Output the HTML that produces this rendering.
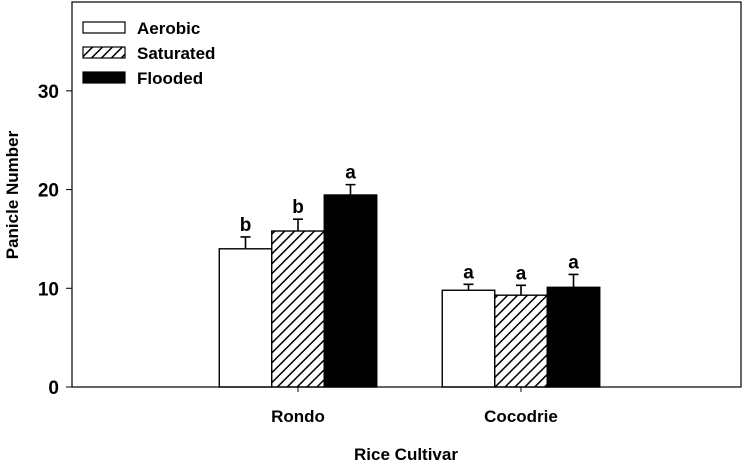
<!DOCTYPE html>
<html><head><meta charset="utf-8"><style>
body{margin:0;background:#fff;}
svg{display:block;font-family:"Liberation Sans",Arial,sans-serif;font-weight:bold;}
</style></head><body>
<svg id="chart" width="750" height="462">
<defs><pattern id="hatch" patternUnits="userSpaceOnUse" width="7" height="7" patternTransform="rotate(45)">
<rect width="7" height="7" fill="#fff"/><line x1="0" y1="0" x2="0" y2="7" stroke="#000" stroke-width="3"/></pattern></defs>
<g id="marks"></g>
</svg>
<script>
const categories=["Rondo","Cocodrie"];
const seriesNames=["Aerobic","Saturated","Flooded"];
const aerobic=[14.0,9.8];
const saturated=[15.8,9.3];
const flooded=[19.45,10.1];
const aerobicErr=[1.2,0.6];
const saturatedErr=[1.2,1.0];
const floodedErr=[1.05,1.3];
const letters=[["b","a"],["b","a"],["a","a"]];
const yTicks=[0,10,20,30];
const L=72,R=741,T=2,B=387,YMAX=39;
const y=v=>B-(v/YMAX)*(B-T);
const x=i=>L+3+(i+1)/3*(R-L);
const svg=document.getElementById('chart');const g=document.getElementById('marks');
const NS="http://www.w3.org/2000/svg";
function el(t,a,p){const e=document.createElementNS(NS,t);for(const k in a)e.setAttribute(k,a[k]);(p||g).appendChild(e);return e;}
const fills=["#fff","url(#hatch)","#000"];
const vals=[aerobic,saturated,flooded],errs=[aerobicErr,saturatedErr,floodedErr];
const bw=52.5;
categories.forEach((c,ci)=>{
 vals.forEach((s,si)=>{
  const x0=x(ci)-1.5*bw+si*bw;
  const r=el('rect',{x:x0,y:y(s[ci]),width:bw,height:B-y(s[ci]),fill:fills[si],stroke:"#000","stroke-width":1.4});
  
  
  const cx=x0+bw/2,et=y(s[ci]+errs[si][ci]);
  const e=el('path',{d:`M${cx} ${y(s[ci])}V${et}M${cx-5} ${et}H${cx+5}`,stroke:"#000","stroke-width":1.6,fill:"none"});
  
  
  const t=el('text',{x:cx,y:et-6,"text-anchor":"middle","font-size":19});t.textContent=letters[si][ci];
  
  
 });
 const t=el('text',{x:x(ci),y:422,"text-anchor":"middle","font-size":17});t.textContent=c;
 
 
 el('line',{x1:x(ci),x2:x(ci),y1:B,y2:B+5,stroke:"#000"});
});
const frame=el('rect',{x:L,y:T,width:R-L,height:B-T,fill:"none",stroke:"#000","stroke-width":1.2});


yTicks.forEach(v=>{
 el('line',{x1:L-6,x2:L,y1:y(v),y2:y(v),stroke:"#000"});
 const t=el('text',{x:59,y:y(v)+7,"text-anchor":"end","font-size":19});t.textContent=v;
 
 
});
const yt=el('text',{x:0,y:0,transform:"translate(18,195) rotate(-90)","text-anchor":"middle","font-size":17});yt.textContent="Panicle Number";


const xt=el('text',{x:406,y:460,"text-anchor":"middle","font-size":17});xt.textContent="Rice Cultivar";


seriesNames.forEach((n,i)=>{
 const yy=22+i*25;
 const r=el('rect',{x:83,y:yy,width:42,height:11,fill:fills[i],stroke:"#000","stroke-width":1.2});
 
 
 const t=el('text',{x:137,y:yy+12,"font-size":17});t.textContent=n;
 
 
});
</script>
</body></html>
